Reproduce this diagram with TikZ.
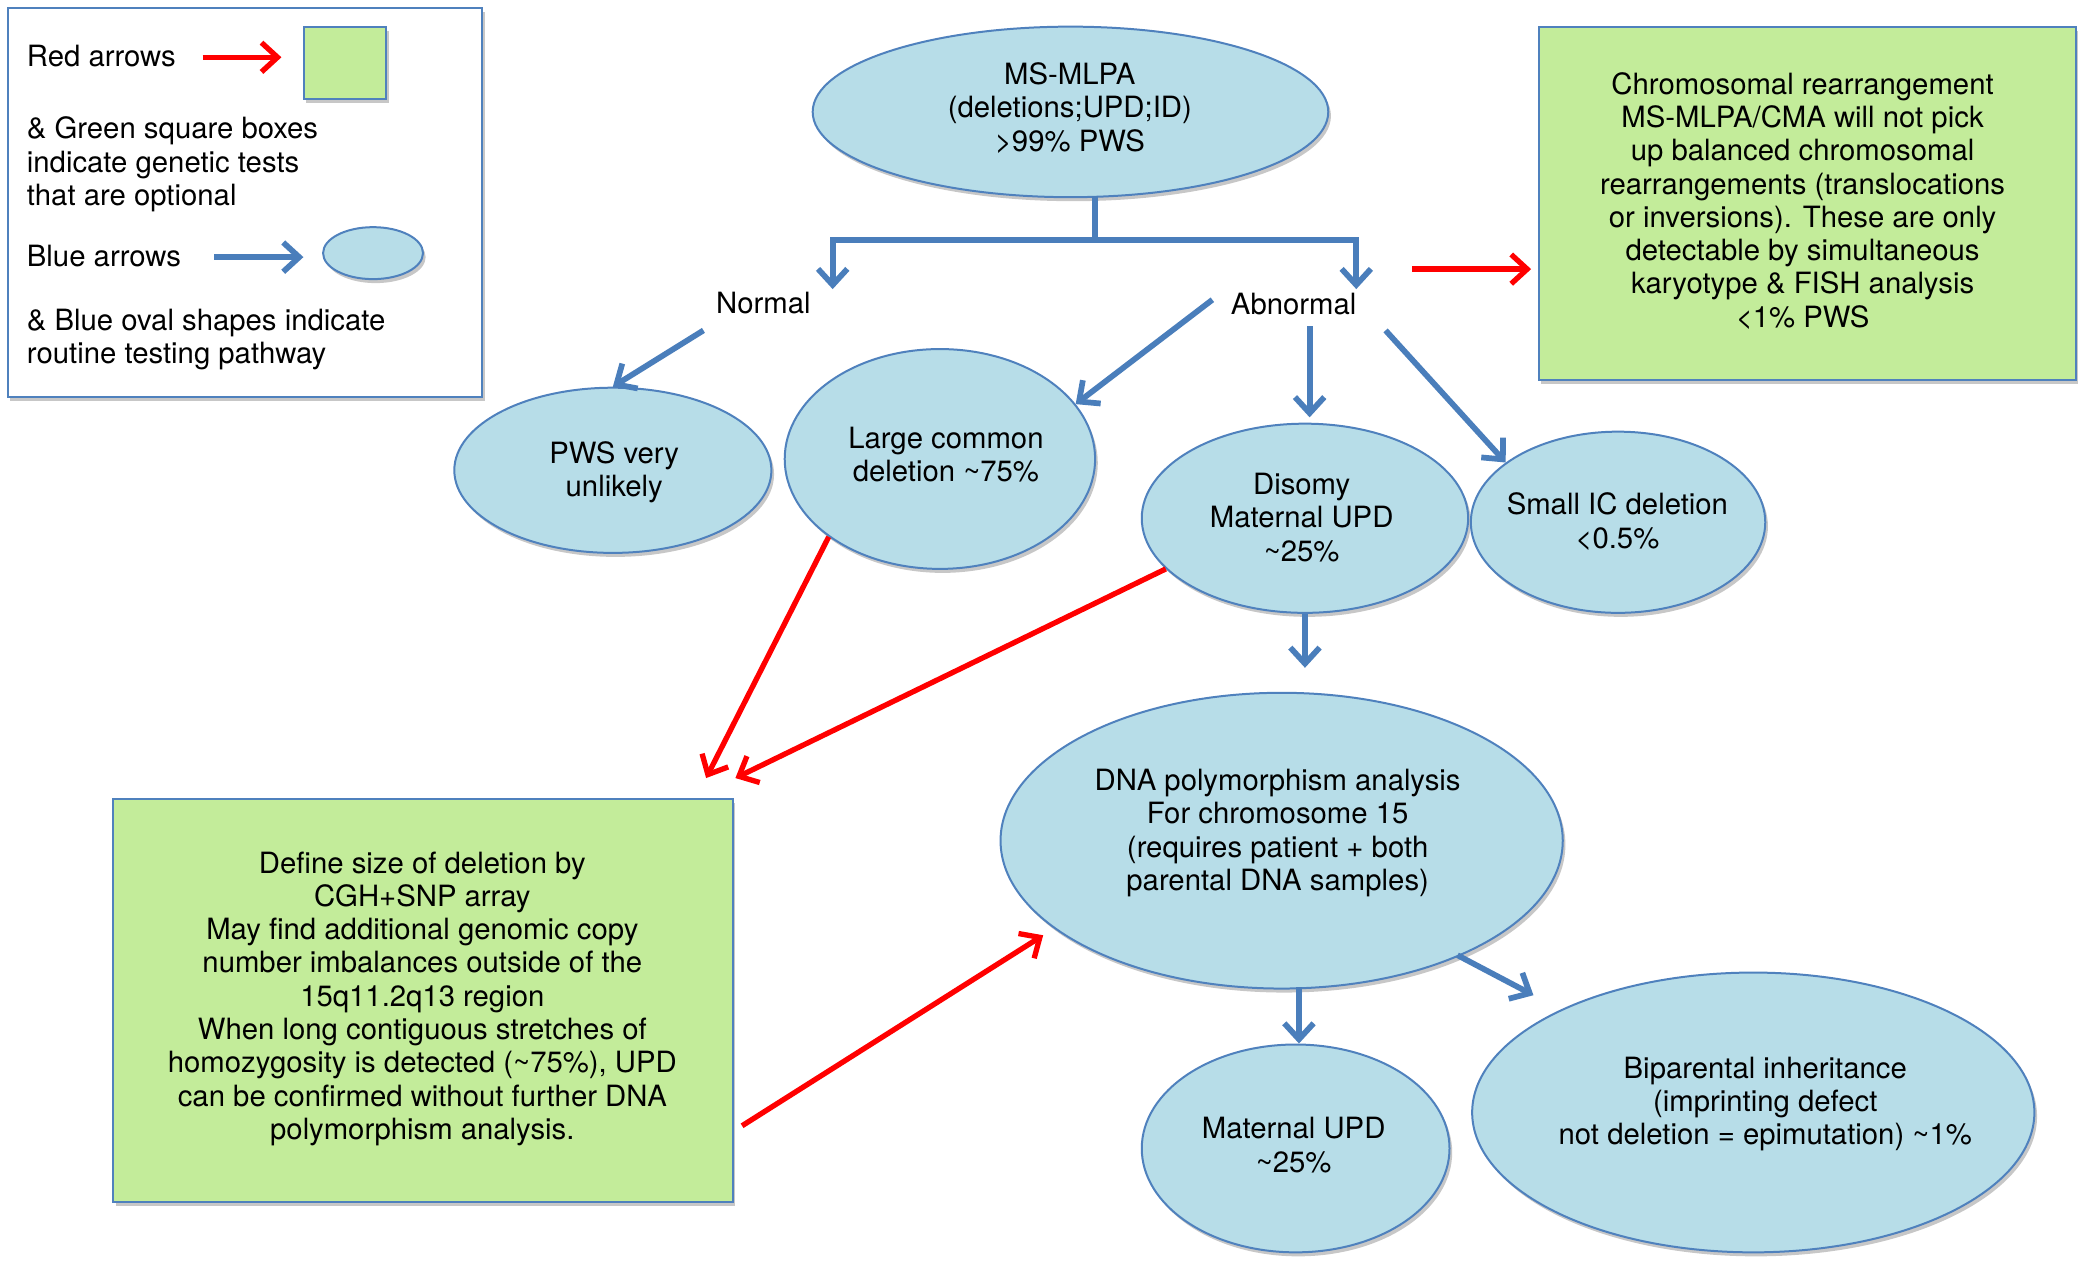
\documentclass[tikz,border=0pt]{standalone}
\usepackage{fontspec}
\setmainfont{TeX Gyre Heros}
\usetikzlibrary{shapes.geometric,arrows.meta,shadows,calc}
\definecolor{ovalfill}{RGB}{183,221,232}
\definecolor{edgeblue}{RGB}{79,129,189}
\definecolor{arrblue}{RGB}{74,126,187}
\definecolor{boxgreen}{RGB}{195,236,154}
\definecolor{arrred}{RGB}{255,0,0}
\begin{document}
\begin{tikzpicture}[x=1pt,y=-1pt,
  txt/.style={font=\fontsize{22}{25}\selectfont, align=center, inner sep=0pt,
    execute at begin node=\strut, execute at end node=\strut},
  ltxt/.style={txt, align=left, anchor=west},
  shad/.style={drop shadow={shadow xshift=2pt, shadow yshift=-3pt, opacity=0.22, fill=black}},
  oval/.style={ellipse, draw=edgeblue, line width=1.5pt, fill=ovalfill, inner sep=0pt, shad},
  gbox/.style={rectangle, draw=edgeblue, line width=1.5pt, fill=boxgreen, inner sep=0pt, shad},
  bline/.style={draw=arrblue, line width=4.3pt},
  barr/.style={draw=arrblue, line width=4.3pt, -{Straight Barb[length=12pt,width=22pt]}},
  rarr/.style={draw=arrred, line width=4pt, -{Straight Barb[length=12pt,width=22pt]}},
]
\useasboundingbox[fill=white] (0,0) rectangle (1565,951);

% ---------- legend ----------
\node[draw=edgeblue, line width=1.5pt, fill=white, minimum width=356pt, minimum height=292pt,
      inner sep=0pt, anchor=north west, shad] (leg) at (5,5) {};
\node[ltxt] (lt1) at (20,45) {Red arrows};
\node[gbox, minimum width=62pt, minimum height=54pt] (lsq) at (259,47) {};
\node[ltxt] (lt2) at (20,124.7) {\& Green square boxes\\indicate genetic tests\\that are optional};
\node[ltxt] (lt3) at (20,195) {Blue arrows};
\node[oval, minimum width=75pt, minimum height=39pt] (lov) at (280,190) {};
\node[ltxt] (lt4) at (20,256) {\& Blue oval shapes indicate\\routine testing pathway};
\coordinate (lra) at (152,43);
\coordinate (lba) at (161,193);
\draw[rarr] (lra) -- (lra -| lsq.west) [shorten >=16pt];
\draw[barr] (lba) -- (lba -| lov.west) [shorten >=14pt];

% ---------- shapes ----------
\node[oval, minimum width=387pt, minimum height=128pt] (ms) at (803.5,84) {};
\node[txt] (mst) at (803,84) {MS-MLPA\\(deletions;UPD;ID)\\>99\% PWS};

\node[txt] (normal) at (573,230) {Normal};
\node[txt] (abn) at (971,231) {Abnormal};

\node[oval, minimum width=238pt, minimum height=124pt] (pws) at (460,353) {};
\node[txt] (pwst) at (461,356) {PWS very\\unlikely};

\node[oval, minimum width=233pt, minimum height=165pt] (lcd) at (705.5,344.5) {};
\node[txt] (lcdt) at (710,344.5) {Large common\\deletion \textasciitilde75\%};

\node[oval, minimum width=245pt, minimum height=142pt] (dis) at (979.5,389) {};
\node[txt] (dist) at (977,392) {Disomy\\Maternal UPD\\\textasciitilde25\%};

\node[oval, minimum width=221pt, minimum height=136pt] (sic) at (1214.5,392) {};
\node[txt] (sict) at (1214,394.5) {Small IC deletion\\\textless0.5\%};

\node[gbox, minimum width=403pt, minimum height=265pt] (g1) at (1356.5,152.5) {};
\node[txt] (g1t) at (1353,153.7) {Chromosomal rearrangement\\MS-MLPA/CMA will not pick\\up balanced chromosomal\\rearrangements (translocations\\or inversions). These are only\\detectable by simultaneous\\karyotype \& FISH analysis\\\textless1\% PWS};

\node[oval, minimum width=422pt, minimum height=222pt] (dna) at (962,631) {};
\node[txt] (dnat) at (959,626.5) {DNA polymorphism analysis\\For chromosome 15\\(requires patient + both\\parental DNA samples)};

\node[gbox, minimum width=465pt, minimum height=302pt] (g2) at (317.5,751) {};
\node[txt] (g2t) at (317,751) {Define size of deletion by\\CGH+SNP array\\May find additional genomic copy\\number imbalances outside of the\\15q11.2q13 region\\When long contiguous stretches of\\homozygosity is detected (\textasciitilde75\%), UPD\\can be confirmed without further DNA\\polymorphism analysis.};

\node[oval, minimum width=231pt, minimum height=156pt] (mat) at (972.5,862) {};
\node[txt] (matt) at (971,863) {Maternal UPD\\\textasciitilde25\%};

\node[oval, minimum width=422pt, minimum height=210pt] (bip) at (1316,835) {};
\node[txt] (bipt) at (1325,830) {Biparental inheritance\\(imprinting defect\\not deletion = epimutation) \textasciitilde1\%};

% ---------- connectors ----------
\coordinate (stemtop) at (822,147);
\coordinate (stemj) at (822,180);
\coordinate (tipL) at (625,217);
\coordinate (tipR) at (1018,217);
\draw[bline] (stemtop) -- (stemj);
\draw[barr] (stemj) -| (tipL);
\draw[barr] (stemj) -| (tipR);

\coordinate (nS) at (528,248);
\draw[barr] (nS) -- (pws.north);

\coordinate (aL) at (910,225);
\draw[barr] (aL) -- (lcd.22);

\coordinate (aD) at (983,245);
\draw[barr, shorten >=4pt] (aD) -- (aD |- dis.north);

\coordinate (aS) at (1040,248);
\draw[barr] (aS) -- (sic.152);

\coordinate (aR) at (1060,202);
\draw[rarr, shorten >=5pt] (aR) -- (aR -| g1.west);

\draw[barr, shorten >=18pt] (dis.south) -- (dis.south |- dna.north);

\coordinate (g2tipA) at (530,584);
\coordinate (g2tipB) at (552,584);
\draw[rarr] (lcd.215) -- (g2tipA);
\draw[rarr] (dis.200) -- (g2tipB);

\coordinate (g2out) at (557,845);
\coordinate (dnaIn) at (783,702);
\draw[rarr] (g2out) -- (dnaIn);

\coordinate (dM) at (975,741);
\draw[barr] (dM) -- (dM |- mat.north);

\coordinate (dB) at (1094,717);
\coordinate (bIn) at (1151,747);
\draw[barr] (dB) -- (bIn);
\end{tikzpicture}
\end{document}
